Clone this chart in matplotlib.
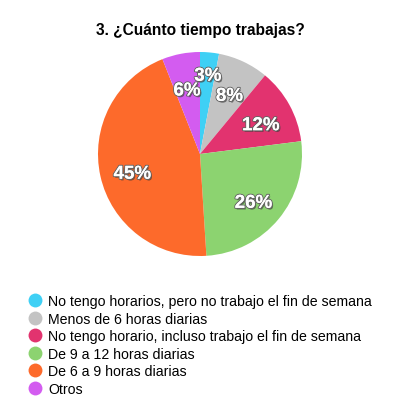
import matplotlib
matplotlib.use("Agg")
import matplotlib.pyplot as plt
import matplotlib.patheffects as pe
from matplotlib.lines import Line2D

title = "3. ¿Cuánto tiempo trabajas?"
categories = [
    "No tengo horarios, pero no trabajo el fin de semana",
    "Menos de 6 horas diarias",
    "No tengo horario, incluso trabajo el fin de semana",
    "De 9 a 12 horas diarias",
    "De 6 a 9 horas diarias",
    "Otros",
]
values = [3, 8, 12, 26, 45, 6]
colors = ["#3fd0f5", "#c3c3c3", "#e2336f", "#8cd370", "#fd6a2b", "#d35cf0"]

plt.rcParams['font.family'] = ['Liberation Sans', 'DejaVu Sans']

fig = plt.figure(figsize=(4.0, 4.02), dpi=100)
W, H = 400, 402
cx, cy, r = 200, 155, 102
ax = fig.add_axes([(cx - r) / W, 1 - (cy + r) / H, 2 * r / W, 2 * r / H])

wedges, texts, autotexts = ax.pie(
    values, colors=colors, startangle=90, counterclock=False,
    autopct=lambda p: f"{p:.0f}%", pctdistance=0.68,
    wedgeprops=dict(linewidth=0),
    textprops=dict(color="white", fontsize=13.5, fontweight="bold"),
)
# push the tiny first slice label outwards
x, y = autotexts[0].get_position()
autotexts[0].set_position((x * 1.2, y * 1.2))
for t in autotexts:
    x, y = t.get_position()
    t.set_position((x, y - 0.05))
    t.set_path_effects([
        pe.withSimplePatchShadow(offset=(1, -1.2), shadow_rgbFace="#333333", alpha=0.6),
        pe.withStroke(linewidth=1.5, foreground="#666666"),
        pe.Normal(),
    ])
ax.set_aspect("equal")
ax.set_xlim(-1, 1)
ax.set_ylim(-1, 1)
ax.axis("off")

fig.text(200 / W, 1 - 30 / H, title, ha="center", va="center",
         fontsize=11.2, fontweight="bold")

handles = [Line2D([], [], marker="o", linestyle="", markersize=10,
                  markerfacecolor=c, markeredgewidth=0) for c in colors]
fig.legend(handles, categories, loc="upper left",
           bbox_to_anchor=(26 / W, 1 - 295 / H), frameon=False,
           fontsize=10.2, handletextpad=0.35, labelspacing=0.25,
           borderaxespad=0, borderpad=0, handlelength=1.2)

fig.savefig("out.png", dpi=100)
